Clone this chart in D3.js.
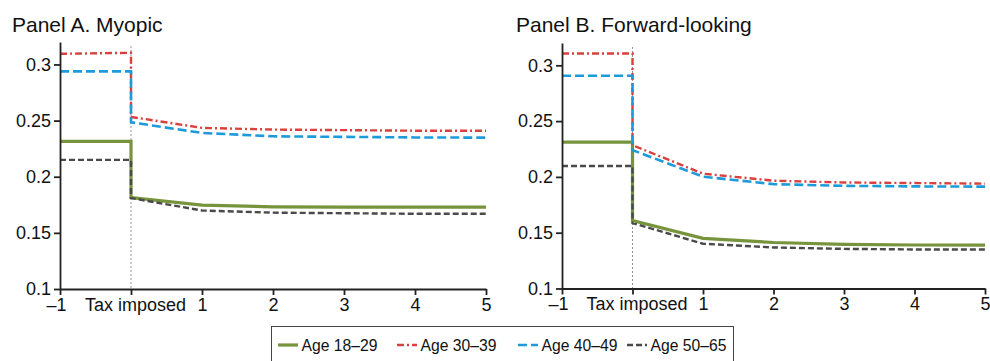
<!DOCTYPE html>
<html>
<head>
<meta charset="utf-8">
<script src="https://cdn.jsdelivr.net/npm/d3@7.8.5/dist/d3.min.js"></script>
<style>
  html, body { margin: 0; padding: 0; background: #fff; }
  svg { display: block; font-family: "Liberation Sans", Arial, Helvetica, sans-serif; }
  .axis path, .axis line { stroke: #222; }
  .axis text { fill: #111; font-size: 18px; }
</style>
</head>
<body>
<div id="chart"></div>
<script>
// periods relative to tax (0 = tax imposed)
const periods = [-1, 0, 1, 2, 3, 4, 5];
const seriesNames = ['Age 18–29', 'Age 30–39', 'Age 40–49', 'Age 50–65'];
const panelTitles = ['Panel A. Myopic', 'Panel B. Forward-looking'];
const yTicks = [0.1, 0.15, 0.2, 0.25, 0.3];

// pre-tax values at -1 and just before 0, then post-tax values at 0..5
const myopicPre = [
  [0.2315, 0.2315],
  [0.3095, 0.3104],
  [0.2938, 0.2938],
  [0.2150, 0.2150]
];
const myopicPost = [
  [0.1815, 0.1747, 0.1732, 0.1730, 0.1730, 0.1730],
  [0.2533, 0.2435, 0.2420, 0.2415, 0.2410, 0.2410],
  [0.2485, 0.2390, 0.2360, 0.2355, 0.2350, 0.2348],
  [0.1810, 0.1699, 0.1680, 0.1675, 0.1670, 0.1670]
];
const forwardPre = [
  [0.2311, 0.2311],
  [0.3106, 0.3106],
  [0.2907, 0.2907],
  [0.2098, 0.2098]
];
const forwardPost = [
  [0.1610, 0.1449, 0.1412, 0.1395, 0.1390, 0.1388],
  [0.2284, 0.2029, 0.1966, 0.1950, 0.1945, 0.1940],
  [0.2240, 0.2002, 0.1935, 0.1920, 0.1915, 0.1913],
  [0.1587, 0.1401, 0.1368, 0.1355, 0.1350, 0.1350]
];

const styles = [
  { color: '#77933c', width: 3.2, dash: null },
  { color: '#d8413d', width: 2.4, dash: '7,3,2,3' },
  { color: '#1d9ad9', width: 2.6, dash: '9,4' },
  { color: '#4a4a4a', width: 2.4, dash: '6,3' }
];

const width = 990, height = 361;
const svg = d3.select('#chart').append('svg')
  .attr('width', width)
  .attr('height', height);

const panels = [
  { title: panelTitles[0], pre: myopicPre, post: myopicPost, left: 60, right: 486, top: 42, bottom: 289, titleX: 12 },
  { title: panelTitles[1], pre: forwardPre, post: forwardPost, left: 562, right: 985, top: 43, bottom: 288.5, titleX: 516 }
];

panels.forEach(p => {
  const x = d3.scaleLinear().domain([-1, 5]).range([p.left, p.right]);
  const y = d3.scaleLinear().domain([0.1, 0.32]).range([p.bottom, p.top]);
  const g = svg.append('g');

  g.append('text')
    .attr('x', p.titleX)
    .attr('y', 32)
    .attr('font-size', 21)
    .attr('fill', '#111')
    .text(p.title);

  // reference line at tax imposition
  g.append('line')
    .attr('x1', x(0)).attr('x2', x(0))
    .attr('y1', p.top + 4).attr('y2', p.bottom)
    .attr('stroke', '#888')
    .attr('stroke-width', 0.9)
    .attr('stroke-dasharray', '2,2');

  const line = d3.line().x(d => x(d[0])).y(d => y(d[1]));

  p.pre.forEach((pre, i) => {
    const pts = [[periods[0], pre[0]], [periods[1], pre[1]]]
      .concat(p.post[i].map((v, j) => [periods[j + 1], v]));
    g.append('path')
      .attr('d', line(pts))
      .attr('fill', 'none')
      .attr('stroke', styles[i].color)
      .attr('stroke-width', styles[i].width)
      .attr('stroke-dasharray', styles[i].dash)
      .attr('stroke-linejoin', 'miter');
  });

  g.append('g')
    .attr('class', 'axis')
    .attr('transform', `translate(${p.left},0)`)
    .call(d3.axisLeft(y).tickValues(yTicks).tickSize(6).tickSizeOuter(0)
      .tickFormat(d => String(+d.toFixed(2))))
    .call(a => a.selectAll('path, line').attr('stroke-width', 1.8))
    .call(a => a.selectAll('text').attr('x', -9));

  g.append('g')
    .attr('class', 'axis')
    .attr('transform', `translate(0,${p.bottom})`)
    .call(d3.axisBottom(x).tickValues(periods).tickSize(6).tickSizeOuter(0)
      .tickFormat(d => d === 0 ? 'Tax imposed' : d < 0 ? '\u2013' + Math.abs(d) : d))
    .call(a => a.selectAll('path, line').attr('stroke-width', 1.8))
    .call(a => a.selectAll('text').attr('y', 9)
      .attr('dx', d => d === 0 ? 4 : d < 0 ? -4 : 0));
});

// legend
const legend = svg.append('g');
legend.append('rect')
  .attr('x', 271.5).attr('y', 326.5)
  .attr('width', 462).attr('height', 40)
  .attr('fill', 'none')
  .attr('stroke', '#444')
  .attr('stroke-width', 1);

const legendX = [278, 397, 518, 627];
seriesNames.forEach((name, i) => {
  const item = legend.append('g').attr('transform', `translate(${legendX[i]},345)`);
  item.append('line')
    .attr('x1', 0).attr('x2', 20)
    .attr('stroke', styles[i].color)
    .attr('stroke-width', styles[i].width)
    .attr('stroke-dasharray', styles[i].dash);
  item.append('text')
    .attr('x', 23.5).attr('y', 5.5)
    .attr('font-size', 15.7)
    .attr('fill', '#111')
    .text(name);
});
</script>
</body>
</html>
